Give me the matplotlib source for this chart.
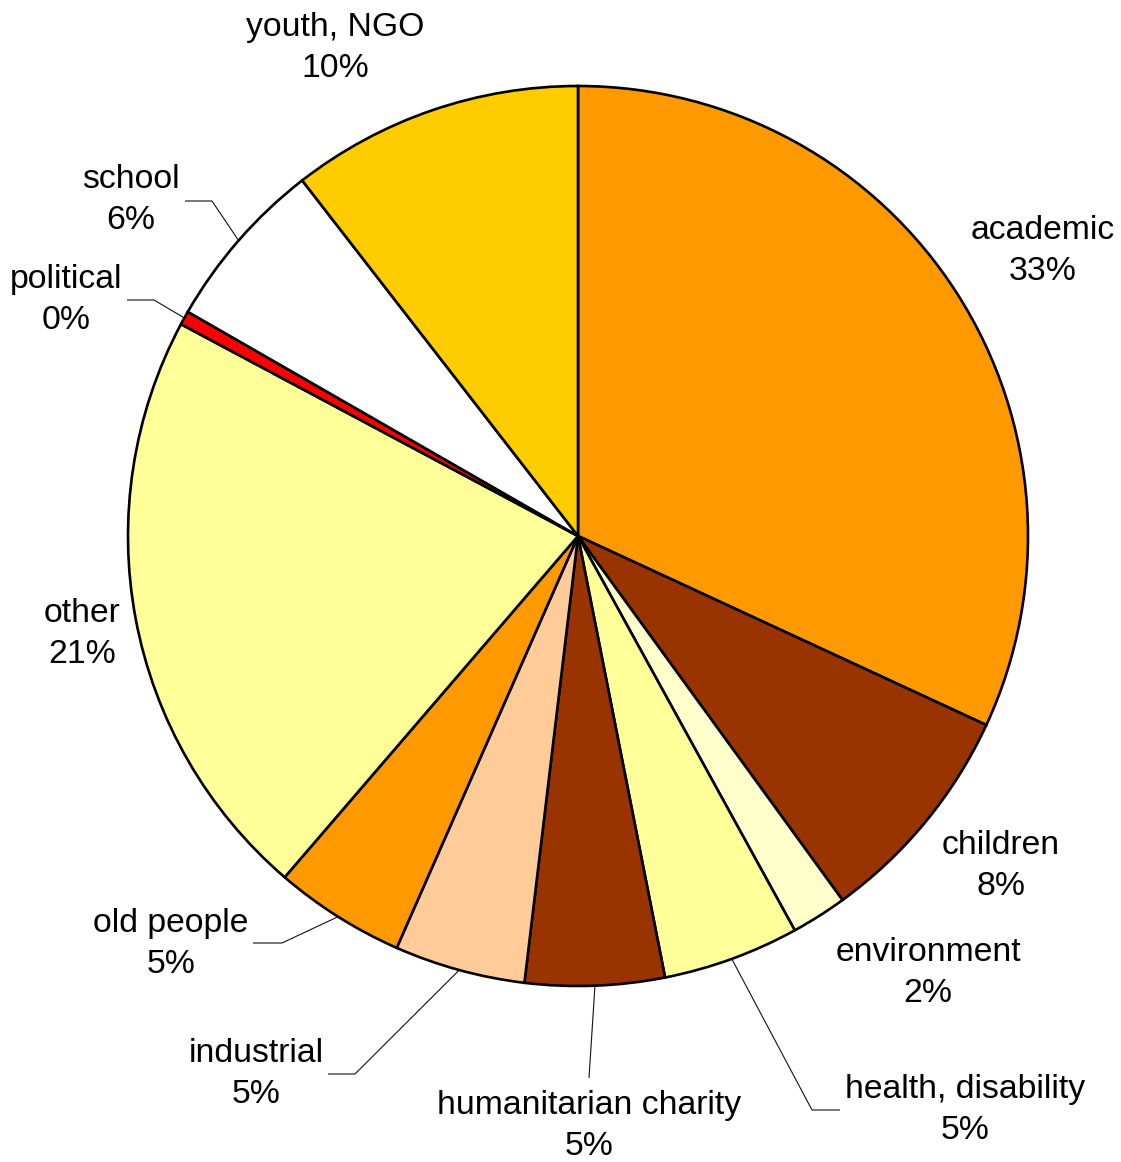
import matplotlib
matplotlib.use("Agg")
import matplotlib.pyplot as plt
import numpy as np

categories = ["academic", "children", "environment", "health, disability",
              "humanitarian charity", "industrial", "old people", "other",
              "political", "school", "youth, NGO"]
shares = [31.9, 8.1, 2.0, 4.9, 5.0, 4.7, 4.7, 21.5, 0.5, 6.2, 10.5]
pct_labels = ["33%", "8%", "2%", "5%", "5%", "5%", "5%", "21%", "0%", "6%", "10%"]
colors = ["#FF9900", "#993300", "#FFFFCC", "#FFFF99", "#993300", "#FFCC99",
          "#FF9900", "#FFFF99", "#FF0000", "#FFFFFF", "#FFCC00"]

# ---- layout (pixels) ----
W, H = 1121, 1162
CX, CY, R = 578, 536, 450
label_pos = {
    "academic": (1043, 251),
    "children": (1001, 866),
    "environment": (928, 973),
    "health, disability": (965, 1110),
    "humanitarian charity": (589, 1126),
    "industrial": (256, 1074),
    "old people": (171, 944),
    "other": (82, 634),
    "political": (66, 300),
    "school": (131, 200),
    "youth, NGO": (335, 48),
}
leaders = {
    "school": [(185, 201), (212, 201)],
    "political": [(127, 300), (154, 300)],
    "old people": [(253, 943), (282, 943)],
    "industrial": [(328, 1074), (355, 1074)],
    "humanitarian charity": [(589, 1078)],
    "health, disability": [(840, 1110), (812, 1110)],
}

plt.rcParams['font.family'] = ['Liberation Sans', 'DejaVu Sans']

fig = plt.figure(figsize=(W / 100, H / 100), dpi=100)
ax = fig.add_axes([0, 0, 1, 1])
wedges, _ = ax.pie(shares, colors=colors, startangle=90, counterclock=False,
                   radius=1, center=(0, 0),
                   wedgeprops=dict(edgecolor='black', linewidth=1.9))
ax.set_xlim(-CX / R, (W - CX) / R)
ax.set_ylim((CY - H) / R, CY / R)
ax.axis('off')


def px(p):
    return ((p[0] - CX) / R, (CY - p[1]) / R)


for cat, pct, w in zip(categories, pct_labels, wedges):
    x, y = px(label_pos[cat])
    ax.text(x, y, f"{cat}\n{pct}", ha='center', va='center',
            multialignment='center', fontsize=24.3, linespacing=1.43,
            color='black')
    if cat in leaders:
        mid = np.deg2rad((w.theta1 + w.theta2) / 2)
        pts = [px(p) for p in leaders[cat]] + [(np.cos(mid), np.sin(mid))]
        xs, ys = zip(*pts)
        ax.plot(xs, ys, color='#111111', linewidth=0.8, solid_capstyle='butt')

fig.savefig("out.png", dpi=100, facecolor='white')
